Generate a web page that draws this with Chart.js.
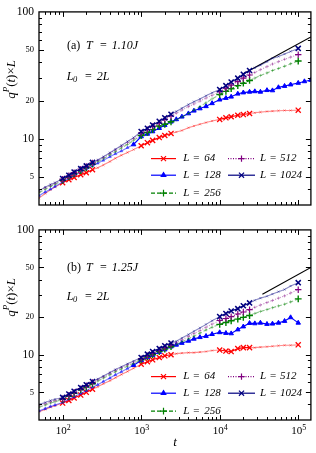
<!DOCTYPE html>
<html><head><meta charset="utf-8">
<script src="https://cdn.jsdelivr.net/npm/chart.js@4.4.0/dist/chart.umd.min.js"></script>
<style>
html,body{margin:0;padding:0;background:#fff;width:316px;height:453px;overflow:hidden}
#wa{position:absolute;left:0;top:0;width:316px;height:218px}
#wb{position:absolute;left:0;top:218px;width:316px;height:235px}
canvas{display:block}
</style></head><body>
<div id="wa"><canvas id="ca" width="316" height="218"></canvas></div>
<div id="wb"><canvas id="cb" width="316" height="235"></canvas></div>
<script>
// ---- data ----
const times = [50,60,70,80,100,120,140,170,200,240,280,330,400,470,560,670,800,1000,1200,1400,1700,2000,2400,2800,3300,4000,4700,5600,6700,8000,10000,12000,14000,17000,20000,24000,28000,33000,40000,47000,56000,67000,80000,100000,120000,145000];
const sizes = [64,128,256,512,1024];

// panel (a) T = 1.10J
const a_L64   = [3.4,3.7,3.95,4.15, 4.5,4.75,4.95,5.2,5.4,5.7,5.9,6.2,6.6,7.0,7.4,7.8,8.2, 8.8,9.3,9.7,10.2,10.6,11.0,11.3,11.6,12.2,12.6,13.0,13.4,13.8, 14.2,14.6,14.9,15.3,15.5,15.8,16.0,16.2,16.4,16.5,16.6,16.7,16.7, 16.8];
const a_L128  = [3.55,3.8,4.0,4.2, 4.55,4.85,5.1,5.45,5.75,6.1,6.4,6.75,7.2,7.6,8.0,8.5,9.0, 10.4,10.9,11.4,12.1,12.8,13.6,14.2,14.9,15.8,16.6,17.3,18.0,19.0, 20.3,20.9,21.4,22.6,23.1,23.4,23.6,23.4,24.1,24.0,25.4,26.0,26.7, 27.5,28.3,29.0];
const a_L256  = [3.75,4.0,4.2,4.35, 4.7,5.0,5.3,5.6,5.9,6.3,6.6,6.95,7.45,7.9,8.45,9.0,9.7, 10.6,11.2,11.8,12.6,13.0,13.6,14.1,14.8,15.8,16.8,17.9,19.2,20.6, 22.3,23.6,24.8,26.2,27.4,28.8,30.0,31.5,33.0,34.5,35.8,37.3,39.0, 41.0];
const a_L512  = [3.85,4.1,4.3,4.45, 4.8,5.1,5.4,5.75,6.05,6.45,6.75,7.1,7.65,8.15,8.7,9.3,10.0, 11.1,11.8,12.5,13.3,14.2,15.1,15.9,16.8,17.9,18.8,19.8,20.9,22.0, 23.5,25.0,26.5,28.2,30.0,31.8,33.3,35.0,37.0,38.8,40.5,42.3,44.0, 46.0];
const a_L1024 = [3.9,4.15,4.35,4.5, 4.85,5.15,5.45,5.8,6.1,6.5,6.8,7.2,7.75,8.25,8.85,9.5,10.2, 11.4,12.1,12.8,13.7,14.6,15.6,16.4,17.4,18.6,19.6,20.6,21.8,23.0, 24.4,26.2,28.0,30.0,32.2,34.5,36.2,38.0,40.5,43.0,44.5,46.5,48.8, 51.5];
const a_fitT = [20000,145000];
const a_fitQ = [32.5,63.5];

// panel (b) T = 1.25J
const b_L64   = [3.5,3.65,3.8,3.9, 4.1,4.3,4.5,4.75,5.0,5.3,5.55,5.85,6.2,6.55,6.95,7.35,7.8, 8.4,8.8,9.1,9.5,9.8,10.0,10.2,10.3,10.4,10.4,10.5,10.6,10.8, 10.9,10.7,10.6,11.2,11.4,11.4,11.4,11.5,11.6,11.7,11.8,11.9,11.9, 12.0];
const b_L128  = [3.55,3.7,3.85,3.95, 4.15,4.4,4.6,4.9,5.15,5.5,5.75,6.1,6.5,6.9,7.3,7.75,8.25, 9.0,9.5,9.9,10.5,11.0,11.6,12.0,12.4,12.9,13.4,13.8,14.1,14.6, 15.1,14.9,14.8,15.9,16.8,17.9,17.8,18.0,17.6,17.7,18.0,18.6,19.9, 18.0];
const b_L256  = [3.8,3.95,4.1,4.2, 4.4,4.65,4.9,5.25,5.5,5.85,6.15,6.5,6.9,7.3,7.7,8.1,8.5, 9.1,9.6,10.0,10.6,11.1,11.6,12.1,12.7,13.4,14.1,14.9,15.8,16.6, 17.5,18.1,18.7,19.3,19.9,20.6,21.4,22.2,23.0,23.8,24.6,25.4,26.5, 28.0];
const b_L512  = [3.9,4.05,4.2,4.3, 4.45,4.75,5.0,5.35,5.65,6.0,6.3,6.65,7.1,7.5,7.9,8.3,8.75, 9.3,9.8,10.3,10.9,11.4,12.0,12.5,13.2,14.0,14.8,15.6,16.6,17.6, 18.8,19.5,20.2,21.2,22.0,23.0,24.0,25.0,26.2,27.2,28.4,29.6,31.2, 33.2];
const b_L1024 = [4.0,4.15,4.3,4.4, 4.55,4.85,5.1,5.45,5.75,6.1,6.4,6.75,7.2,7.6,8.0,8.45,8.9, 9.5,10.1,10.6,11.2,11.8,12.4,12.8,13.6,14.5,15.4,16.4,17.5,18.7, 20.2,21.4,22.4,23.4,24.7,26.0,27.3,28.4,29.4,30.6,32.0,33.3,35.5, 37.8];
const b_fitT = [35000,145000];
const b_fitQ = [30.5,50.0];

const yLabelTicks = [5,10,20,50,100];
const xLabelTicks = [100,1000,10000,100000];
const panelTitles = [['(a)','1.10J'],['(b)','1.25J']];

// ---- styling ----
const FONT = '"Liberation Serif", "Times New Roman", serif';
const CLR  = {64:'#ff0000',128:'#0000ff',256:'#008000',512:'#800080',1024:'#000080'};
const PALE = {64:'rgba(255,0,0,0.45)',128:'rgba(0,0,255,0.5)',256:'rgba(0,128,0,0.45)',512:'rgba(128,0,128,0.45)',1024:'rgba(0,0,128,0.45)'};
const STYLE = {
  64:{ps:'crossRot',r:3.6,bw:1.3,dash:[]},
  128:{ps:'triangle',r:2.6,bw:1,dash:[]},
  256:{ps:'cross',r:3.4,bw:1.4,dash:[4,2]},
  512:{ps:'cross',r:3.2,bw:1.2,dash:[1,1.5]},
  1024:{ps:'crossRot',r:3.6,bw:1.5,dash:[]}
};
function boldT(t){
  if (t >= 100000) return true;
  if (t < 100) return false;
  const m = t/Math.pow(10, Math.floor(Math.log10(t)+1e-9));
  return m < 2.6;
}
function series(L, vals, order){
  const data = [];
  vals.forEach((v,i)=>{ if (v!=null) data.push({x:times[i], y:v}); });
  const s = STYLE[L];
  const isB = L===128 ? (t=>t>=800) : boldT;
  const pb = c => !!(c.raw && isB(c.raw.x));
  return {
    label:'L = '+L, data, order,
    borderColor:PALE[L], borderWidth:1.1, borderDash:s.dash,
    segment:{ borderColor: c => (isB(data[c.p0DataIndex].x) && isB(data[c.p1DataIndex].x)) ? CLR[L] : PALE[L] },
    pointStyle:s.ps,
    pointRadius: c => pb(c) ? s.r : 1.6,
    pointBorderWidth: c => pb(c) ? s.bw : 0.8,
    pointBorderColor: c => pb(c) ? CLR[L] : PALE[L],
    pointBackgroundColor: c => pb(c) ? CLR[L] : PALE[L],
    pointHoverRadius:0, tension:0, fill:false
  };
}
function fitSet(ts, qs){
  return {label:'fit', data: ts.map((t,i)=>({x:t,y:qs[i]})), borderColor:'#000', borderWidth:1.2,
          pointRadius:0, order:9, tension:0, fill:false};
}
function logTicks(min,max){
  const out=[];
  for (let e=Math.floor(Math.log10(min)); e<=Math.ceil(Math.log10(max)); e++)
    for (let m=1;m<10;m++){ const v=m*Math.pow(10,e); if (v>=min*0.999 && v<=max*1.001) out.push(v); }
  return out;
}
function rich(ctx, parts, x, y){
  let cx = x;
  for (const p of parts){
    ctx.font = (p[1]?'italic ':'') + p[2] + 'px ' + FONT;
    ctx.fillText(p[0], cx, y + (p[3]||0));
    cx += ctx.measureText(p[0]).width;
  }
  return cx - x;
}
function richWidth(ctx, parts){
  let w=0; for (const p of parts){ ctx.font=(p[1]?'italic ':'')+p[2]+'px '+FONT; w+=ctx.measureText(p[0]).width; } return w;
}

const decorPlugin = {
  id:'decor',
  afterDraw(chart, args, o){
    const {ctx, chartArea:{left,right,top,bottom}, scales:{x,y}} = chart;
    ctx.save();
    ctx.strokeStyle='#000'; ctx.lineWidth=1.3;
    ctx.strokeRect(left, top, right-left, bottom-top);
    ctx.lineWidth=1; ctx.beginPath();
    for (const v of logTicks(x.min, x.max)){
      const px = Math.round(x.getPixelForValue(v))+0.5;
      if (px<=left+1 || px>=right-1) continue;
      const L = xLabelTicks.includes(v) ? 5 : 3;
      ctx.moveTo(px,bottom); ctx.lineTo(px,bottom-L);
      ctx.moveTo(px,top); ctx.lineTo(px,top+L);
    }
    for (const v of logTicks(y.min, y.max)){
      const py = Math.round(y.getPixelForValue(v))+0.5;
      if (py<=top+1 || py>=bottom-1) continue;
      const L = yLabelTicks.includes(v) ? 5 : 3;
      ctx.moveTo(left,py); ctx.lineTo(left+L,py);
      ctx.moveTo(right,py); ctx.lineTo(right-L,py);
    }
    ctx.stroke();

    ctx.fillStyle='#000'; ctx.textBaseline='middle'; ctx.textAlign='left';
    const tp = [['q',true,13,0],['P',true,9,-5],['(',false,13,0],['t',true,13,0],[')',false,13,0],['\u00d7',false,13,0],['L',true,13,0]];
    ctx.save();
    ctx.translate(12, top+67.5); ctx.rotate(-Math.PI/2);
    rich(ctx, tp, -richWidth(ctx,tp)/2, 0);
    ctx.restore();

    const ay1 = top + o.ann[0], ay2 = top + o.ann[1];
    ctx.font = '12px '+FONT; ctx.fillText(o.tag, 67, ay1);
    ctx.font = 'italic 12px '+FONT; ctx.fillText('T', 86, ay1);
    ctx.font = '12px '+FONT; ctx.fillText('=', 100, ay1);
    ctx.font = 'italic 12px '+FONT; ctx.fillText(o.temp, 111.7, ay1);
    ctx.font = 'italic 12px '+FONT; ctx.fillText('L', 66.7, ay2);
    ctx.font = 'italic 8.5px '+FONT; ctx.fillText('0', 73, ay2+3);
    ctx.font = '12px '+FONT; ctx.fillText('=', 85, ay2);
    ctx.font = 'italic 12px '+FONT; ctx.fillText('2L', 96.7, ay2);

    const rows = [146.7, 163.3, 181.3];
    const ent = [[64,0,0],[512,1,0],[128,0,1],[1024,1,1],[256,0,2]];
    for (const [L,col,row] of ent){
      const yy = top + rows[row];
      const x0 = col ? 228 : 151, x1 = col ? 255 : 176, xm = (x0+x1)/2;
      const tx = col ? 260 : 183.3;
      const s = STYLE[L];
      ctx.save();
      ctx.strokeStyle = CLR[L]; ctx.fillStyle = CLR[L];
      ctx.lineWidth = 1.2; ctx.setLineDash(s.dash);
      ctx.beginPath(); ctx.moveTo(x0,yy); ctx.lineTo(x1,yy); ctx.stroke();
      ctx.setLineDash([]);
      Chart.helpers.drawPoint(ctx, {pointStyle:s.ps, radius:s.r, borderWidth:s.bw, rotation:0}, xm, yy);
      ctx.restore();
      ctx.fillStyle='#000';
      ctx.font = 'italic 11px '+FONT; ctx.fillText('L', tx, yy);
      ctx.font = '11px '+FONT; ctx.fillText('=', tx+10, yy);
      ctx.font = 'italic 11px '+FONT; ctx.fillText(String(L), tx+ (col?20:21), yy);
    }

    if (o.xlabels){
      ctx.textBaseline='alphabetic';
      for (const v of xLabelTicks){
        const px = x.getPixelForValue(v);
        const e = Math.round(Math.log10(v));
        ctx.font = '11px '+FONT; const w1 = ctx.measureText('10').width;
        ctx.font = '8px '+FONT; const w2 = ctx.measureText(String(e)).width;
        const sx = px - (w1+w2)/2 + 0.5;
        ctx.font = '11px '+FONT; ctx.fillText('10', sx, bottom+14);
        ctx.font = '8px '+FONT; ctx.fillText(String(e), sx+w1, bottom+9.5);
      }
      ctx.textBaseline='middle'; ctx.textAlign='center';
      ctx.font = 'italic 13px '+FONT;
      ctx.fillText('t', (left+right)/2, bottom+23);
    }
    ctx.restore();
  }
};

function makeChart(id, sets, fitT, fitQ, padTop, padBottom, decor){
  const ds = [
    series(64, sets[0], 5), series(128, sets[1], 4), series(256, sets[2], 3),
    series(512, sets[3], 2), series(1024, sets[4], 1), fitSet(fitT, fitQ)
  ];
  return new Chart(document.getElementById(id), {
    type:'line',
    data:{datasets:ds},
    plugins:[decorPlugin],
    options:{
      responsive:false, animation:false, events:[],
      layout:{padding:{top:padTop, bottom:padBottom, left:0, right:2}},
      plugins:{legend:{display:false}, tooltip:{enabled:false}, decor:decor},
      scales:{
        x:{type:'logarithmic', min:50, max:145000, display:false},
        y:{type:'logarithmic', min:3, max:100,
           grid:{display:false, drawTicks:false}, border:{display:false},
           ticks:{autoSkip:false, padding:5, color:'#000',
             callback:(v)=> yLabelTicks.includes(Math.round(v*1000)/1000) ? String(Math.round(v)) : '',
             font:(c)=>{ const v=c.tick?c.tick.value:0; return {family:FONT, size:(v===10||v===100)?11.5:8.5}; }},
           afterFit:(s)=>{ s.width = 39; }}
      }
    }
  });
}

makeChart('ca', [a_L64,a_L128,a_L256,a_L512,a_L1024], a_fitT, a_fitQ, 10, 13,
  {ann:[33.5,65], tag:panelTitles[0][0], temp:panelTitles[0][1], xlabels:false});
makeChart('cb', [b_L64,b_L128,b_L256,b_L512,b_L1024], b_fitT, b_fitQ, 7, 33,
  {ann:[38.3,66.7], tag:panelTitles[1][0], temp:panelTitles[1][1], xlabels:true});
</script>
</body></html>
